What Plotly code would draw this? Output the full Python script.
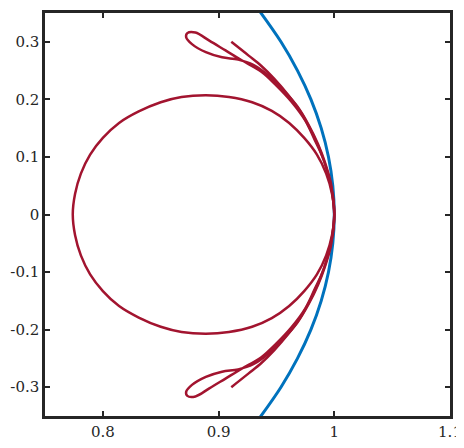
import plotly.graph_objects as go

# unit circle arc (blue)
circle_x = [0.9330, 0.9539, 0.9682, 0.9798, 0.9887, 0.9950, 0.9987, 1.0000,
            0.9987, 0.9950, 0.9887, 0.9798, 0.9682, 0.9539, 0.9330]
circle_y = [0.36, 0.30, 0.25, 0.20, 0.15, 0.10, 0.05, 0.0,
            -0.05, -0.10, -0.15, -0.20, -0.25, -0.30, -0.36]

# closed egg-shaped loop (red)
egg_x = [1.000, 0.998, 0.993, 0.985, 0.974, 0.961, 0.946, 0.929, 0.909, 0.889,
         0.868, 0.850, 0.831, 0.814, 0.800, 0.789, 0.781, 0.776, 0.774,
         0.776, 0.781, 0.789, 0.800, 0.814, 0.831, 0.850, 0.868, 0.889, 0.909,
         0.929, 0.946, 0.961, 0.974, 0.985, 0.993, 0.998, 1.000]
egg_y = [0.000, 0.036, 0.071, 0.104, 0.133, 0.159, 0.180, 0.195, 0.204, 0.207,
         0.204, 0.195, 0.179, 0.159, 0.133, 0.104, 0.071, 0.036, 0.000,
         -0.036, -0.071, -0.104, -0.133, -0.159, -0.179, -0.195, -0.204, -0.207, -0.204,
         -0.195, -0.180, -0.159, -0.133, -0.104, -0.071, -0.036, 0.000]

# strand ending at the two free ends
tail_x = [0.911, 0.926, 0.937, 0.948, 0.960, 0.971, 0.980, 0.988, 0.994, 0.998, 1.000,
          0.998, 0.994, 0.988, 0.980, 0.971, 0.960, 0.948, 0.937, 0.926, 0.911]
tail_y = [0.300, 0.276, 0.258, 0.236, 0.208, 0.178, 0.145, 0.110, 0.075, 0.040, 0.000,
          -0.040, -0.075, -0.110, -0.145, -0.178, -0.208, -0.236, -0.258, -0.276, -0.300]

# strand with the small loops at top and bottom
lobe_x = [1.000, 0.999, 0.996, 0.991, 0.983, 0.975, 0.963, 0.950, 0.937, 0.920,
          0.906, 0.892, 0.880, 0.873, 0.872, 0.877, 0.889, 0.903, 0.917, 0.930,
          0.944, 0.956, 0.968, 0.978, 0.986, 0.992, 0.997, 0.999, 1.000,
          0.999, 0.997, 0.992, 0.986, 0.978, 0.968, 0.956, 0.944, 0.930, 0.917,
          0.903, 0.889, 0.877, 0.872, 0.873, 0.880, 0.892, 0.906, 0.920, 0.937,
          0.950, 0.963, 0.975, 0.983, 0.991, 0.996, 0.999, 1.000]
lobe_y = [0.000, 0.030, 0.060, 0.095, 0.130, 0.163, 0.196, 0.224, 0.248, 0.268,
          0.285, 0.302, 0.316, 0.315, 0.308, 0.296, 0.282, 0.273, 0.269, 0.260,
          0.240, 0.216, 0.188, 0.155, 0.122, 0.090, 0.055, 0.025, 0.000,
          -0.025, -0.055, -0.090, -0.122, -0.155, -0.188, -0.216, -0.240, -0.260, -0.269,
          -0.273, -0.282, -0.296, -0.308, -0.315, -0.316, -0.302, -0.285, -0.268, -0.248,
          -0.224, -0.196, -0.163, -0.130, -0.095, -0.060, -0.030, 0.000]

x_ticks = [0.8, 0.9, 1.0, 1.1]
x_tick_text = ["0.8", "0.9", "1", "1.1"]
y_ticks = [-0.3, -0.2, -0.1, 0.0, 0.1, 0.2, 0.3]
y_tick_text = ["-0.3", "-0.2", "-0.1", "0", "0.1", "0.2", "0.3"]

RED = "#A2142F"
BLUE = "#0072BD"
FONT = "DejaVu Serif"

fig = go.Figure()

fig.add_trace(go.Scatter(x=circle_x, y=circle_y, mode="lines",
                         line=dict(color=BLUE, width=3, shape="spline")))
for xs, ys in [(egg_x, egg_y), (tail_x, tail_y), (lobe_x, lobe_y)]:
    fig.add_trace(go.Scatter(x=xs, y=ys, mode="lines",
                             line=dict(color=RED, width=2.5, shape="spline", smoothing=1.0)))

axis_style = dict(showgrid=False, zeroline=False, showline=True, mirror="ticks",
                  linecolor="#262626", linewidth=2.5, ticks="inside", ticklen=5,
                  tickwidth=2, tickcolor="#262626", ticklabeloverflow="allow",
                  tickfont=dict(family=FONT, size=15, color="#262626"))

fig.update_xaxes(range=[0.75, 1.1], tickvals=x_ticks, ticktext=x_tick_text, **axis_style)
fig.update_yaxes(range=[-0.35, 0.35], tickvals=y_ticks, ticktext=y_tick_text, **axis_style)

# page body adds an 8px margin at the top left
fig.update_layout(
    width=456, height=440,
    margin=dict(l=34, r=13, t=2, b=32),
    font=dict(family=FONT, size=15, color="#262626"),
    plot_bgcolor="white", paper_bgcolor="white",
    showlegend=False,
)

fig.write_html("out.html")
